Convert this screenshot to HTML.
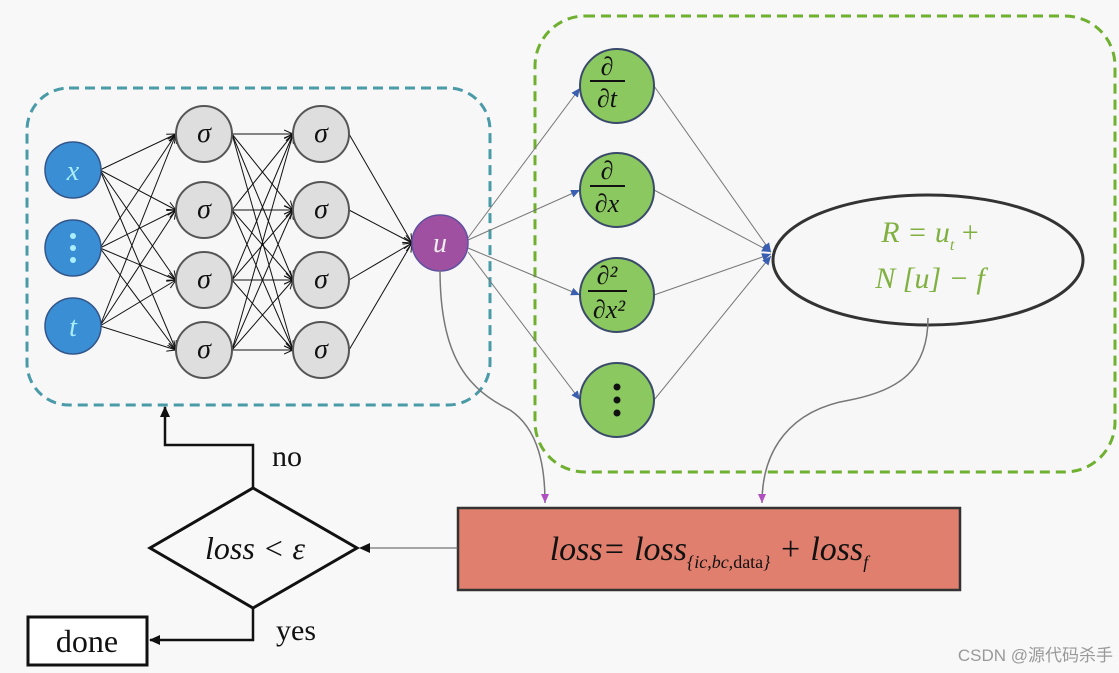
<!DOCTYPE html>
<html><head><meta charset="utf-8"><style>
html,body{margin:0;padding:0;background:#f8f8f8;}
svg{display:block;font-family:"Liberation Serif",serif;}
</style></head><body>
<svg width="1119" height="673" viewBox="0 0 1119 673" xmlns="http://www.w3.org/2000/svg">
<defs>
<marker id="ab" markerWidth="10" markerHeight="10" refX="9" refY="5" orient="auto" markerUnits="userSpaceOnUse"><path d="M0,1 L9,5 L0,9" fill="none" stroke="#111" stroke-width="1"/></marker>
<marker id="ak" markerWidth="12" markerHeight="12" refX="10" refY="6" orient="auto" markerUnits="userSpaceOnUse"><path d="M0,1 L11,6 L0,11 z" fill="#111"/></marker>
<marker id="abl" markerWidth="10" markerHeight="10" refX="9" refY="5" orient="auto" markerUnits="userSpaceOnUse"><path d="M0,1 L9,5 L0,9 z" fill="#3a5fb0"/></marker>
<marker id="ap" markerWidth="10" markerHeight="10" refX="9" refY="5" orient="auto" markerUnits="userSpaceOnUse"><path d="M0,1 L9,5 L0,9 z" fill="#b050c0"/></marker>
</defs>
<rect width="1119" height="673" fill="#f8f8f8"/>
<rect x="27" y="88" width="463" height="317" rx="42" fill="#f7f7f7" stroke="#4a9aa8" stroke-width="3" stroke-dasharray="10,6"/>
<rect x="535" y="16" width="580" height="456" rx="50" fill="#f7f7f7" stroke="#70b030" stroke-width="3" stroke-dasharray="10,6"/>
<g stroke="#111" stroke-width="1" marker-end="url(#ab)">
<!-- input to layer1 -->
<line x1="100" y1="170" x2="176" y2="134"/><line x1="100" y1="170" x2="176" y2="210"/><line x1="100" y1="170" x2="176" y2="280"/><line x1="100" y1="170" x2="176" y2="350"/>
<line x1="100" y1="248" x2="176" y2="134"/><line x1="100" y1="248" x2="176" y2="210"/><line x1="100" y1="248" x2="176" y2="280"/><line x1="100" y1="248" x2="176" y2="350"/>
<line x1="100" y1="326" x2="176" y2="134"/><line x1="100" y1="326" x2="176" y2="210"/><line x1="100" y1="326" x2="176" y2="280"/><line x1="100" y1="326" x2="176" y2="350"/>
<!-- l1 to l2 -->
<line x1="232" y1="134" x2="293" y2="134"/><line x1="232" y1="134" x2="293" y2="210"/><line x1="232" y1="134" x2="293" y2="280"/><line x1="232" y1="134" x2="293" y2="350"/>
<line x1="232" y1="210" x2="293" y2="134"/><line x1="232" y1="210" x2="293" y2="210"/><line x1="232" y1="210" x2="293" y2="280"/><line x1="232" y1="210" x2="293" y2="350"/>
<line x1="232" y1="280" x2="293" y2="134"/><line x1="232" y1="280" x2="293" y2="210"/><line x1="232" y1="280" x2="293" y2="280"/><line x1="232" y1="280" x2="293" y2="350"/>
<line x1="232" y1="350" x2="293" y2="134"/><line x1="232" y1="350" x2="293" y2="210"/><line x1="232" y1="350" x2="293" y2="280"/><line x1="232" y1="350" x2="293" y2="350"/>
<line x1="349" y1="134" x2="412" y2="243"/><line x1="349" y1="210" x2="412" y2="243"/><line x1="349" y1="280" x2="412" y2="243"/><line x1="349" y1="350" x2="412" y2="243"/>
</g>
<g stroke="#777" stroke-width="1" marker-end="url(#abl)">
<line x1="468" y1="238" x2="580" y2="88"/><line x1="468" y1="240" x2="580" y2="190"/><line x1="468" y1="248" x2="580" y2="295"/><line x1="468" y1="252" x2="580" y2="400"/>
<line x1="654" y1="86" x2="771" y2="252"/><line x1="654" y1="190" x2="771" y2="252"/><line x1="654" y1="295" x2="771" y2="254"/><line x1="654" y1="400" x2="771" y2="256"/>
</g>
<g fill="#3a8fd4" stroke="#33558a" stroke-width="1.5">
<circle cx="73" cy="170" r="28"/><circle cx="73" cy="248" r="28"/><circle cx="73" cy="326" r="28"/></g>
<text x="73" y="180" font-size="28" font-style="italic" fill="#aef" text-anchor="middle">x</text>
<text x="73" y="336" font-size="28" font-style="italic" fill="#aef" text-anchor="middle">t</text>
<g fill="#aef"><circle cx="73" cy="236" r="3"/><circle cx="73" cy="248" r="3"/><circle cx="73" cy="260" r="3"/></g>
<g fill="#dedede" stroke="#555" stroke-width="2">
<circle cx="204" cy="134" r="28"/><circle cx="204" cy="210" r="28"/><circle cx="204" cy="280" r="28"/><circle cx="204" cy="350" r="28"/>
<circle cx="321" cy="134" r="28"/><circle cx="321" cy="210" r="28"/><circle cx="321" cy="280" r="28"/><circle cx="321" cy="350" r="28"/></g>
<g font-size="28" font-style="italic" fill="#111" text-anchor="middle">
<text x="204" y="142">σ</text><text x="204" y="218">σ</text><text x="204" y="288">σ</text><text x="204" y="358">σ</text>
<text x="321" y="142">σ</text><text x="321" y="218">σ</text><text x="321" y="288">σ</text><text x="321" y="358">σ</text></g>
<circle cx="440" cy="243" r="28" fill="#a050a0" stroke="#6050a0" stroke-width="1.5"/>
<text x="440" y="252" font-size="28" font-style="italic" fill="#eee" text-anchor="middle">u</text>
<g fill="#8cc860" stroke="#3a4a6a" stroke-width="2">
<circle cx="617" cy="86" r="37"/><circle cx="617" cy="190" r="37"/><circle cx="617" cy="295" r="37"/><circle cx="617" cy="400" r="37"/></g>
<g font-size="26" font-style="italic" fill="#111" text-anchor="middle">
<text x="607" y="75">∂</text><line x1="590" y1="81" x2="625" y2="81" stroke="#111" stroke-width="2"/><text x="607" y="107">∂t</text>
<text x="607" y="179">∂</text><line x1="590" y1="186" x2="625" y2="186" stroke="#111" stroke-width="2"/><text x="607" y="212">∂x</text>
<text x="607" y="284">∂²</text><line x1="588" y1="291" x2="627" y2="291" stroke="#111" stroke-width="2"/><text x="609" y="318">∂x²</text></g>
<g fill="#111"><circle cx="617" cy="387" r="3.5"/><circle cx="617" cy="400" r="3.5"/><circle cx="617" cy="413" r="3.5"/></g>
<ellipse cx="928" cy="260" rx="155" ry="65" fill="#f7f7f7" stroke="#333" stroke-width="3"/>
<text x="930" y="242" font-size="30" font-style="italic" fill="#80b040" text-anchor="middle">R = u<tspan font-size="16" dy="8">t</tspan><tspan dy="-8" font-style="normal"> +</tspan></text>
<text x="930" y="288" font-size="30" font-style="italic" fill="#80b040" text-anchor="middle">N [u] − f</text>
<path d="M440,270 C440,360 470,390 510,410 C540,430 545,470 545,503" fill="none" stroke="#777" stroke-width="1.5" marker-end="url(#ap)"/>
<path d="M928,318 C928,370 900,390 850,400 C790,410 762,450 762,503" fill="none" stroke="#777" stroke-width="1.5" marker-end="url(#ap)"/>
<rect x="458" y="508" width="502" height="82" fill="#e07f6e" stroke="#333" stroke-width="2.5"/>
<text x="709" y="560" font-size="34" font-style="italic" fill="#111" text-anchor="middle">loss= loss<tspan font-size="18" dy="8">{ic,bc,<tspan font-style="normal">data</tspan>}</tspan><tspan dy="-8"> + loss</tspan><tspan font-size="18" dy="8">f</tspan></text>
<path d="M253,488 L357,548 L253,608 L150,548 Z" fill="#f8f8f8" stroke="#111" stroke-width="3"/>
<text x="255" y="559" font-size="32" font-style="italic" fill="#111" text-anchor="middle">loss &lt; ε</text>
<line x1="458" y1="548" x2="360" y2="548" stroke="#555" stroke-width="1" marker-end="url(#ak)"/>
<polyline points="253,488 253,445 165,445 165,407" fill="none" stroke="#111" stroke-width="2.5" marker-end="url(#ak)"/>
<polyline points="253,608 253,640 150,640" fill="none" stroke="#111" stroke-width="2.5" marker-end="url(#ak)"/>
<text x="272" y="466" font-size="30" fill="#111">no</text>
<text x="276" y="640" font-size="30" fill="#111">yes</text>
<rect x="28" y="617" width="119" height="48" fill="#fff" stroke="#111" stroke-width="3"/>
<text x="87" y="652" font-size="32" fill="#111" text-anchor="middle">done</text>
<text x="1113" y="661" font-size="17" fill="#999" text-anchor="end" font-family="Liberation Sans, Noto Sans CJK SC, sans-serif">CSDN @源代码杀手</text>
</svg>
</body></html>
